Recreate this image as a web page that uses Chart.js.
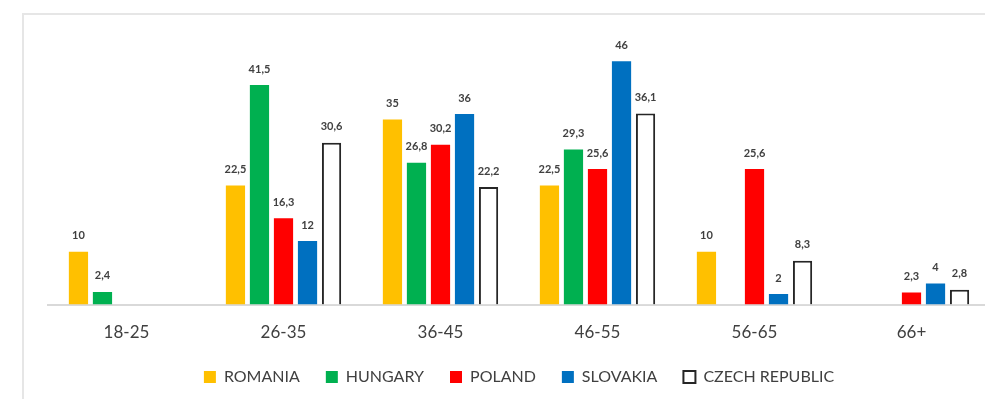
<!DOCTYPE html>
<html>
<head>
<meta charset="utf-8">
<script src="https://cdn.jsdelivr.net/npm/chart.js@4"></script>
<style>
    html, body { margin: 0; padding: 0; background: #fff; overflow: hidden; }
    #wrap { position: relative; width: 985px; height: 399px; overflow: hidden; }
    #frame { position: absolute; left: 22px; top: 13px; width: 1100px; height: 500px; border: 2px solid #e6e6e6; }
    #box { position: absolute; left: 0; top: 0; width: 1000px; height: 420px; }
</style>
</head>
<body>
<div id="wrap">
    <div id="frame"></div>
    <div id="box"><canvas id="ageChart" width="1000" height="420"></canvas></div>
</div>
<script>
    const ageGroups=["18-25","26-35","36-45","46-55","56-65","66+"];

    const romania=[10,22.5,35,22.5,10,null];
    const hungary=[2.4,41.5,26.8,29.3,null,null];
    const poland=[null,16.3,30.2,25.6,25.6,2.3];
    const slovakia=[null,12,36,46,2,4];
    const czech=[null,30.6,22.2,36.1,8.3,2.8];

    const textColor="#404040";

    // value labels above every bar, decimal comma
    const barValues={
        id: "barValues",
        afterDatasetsDraw(chart) {
            const ctx=chart.ctx;
            ctx.save();
            ctx.font="bold 11px Lato";
            ctx.fillStyle=textColor;
            ctx.textAlign="center";
            ctx.textBaseline="middle";
            chart.data.datasets.forEach(function(ds,i) {
                const meta=chart.getDatasetMeta(i);
                meta.data.forEach(function(bar,j) {
                    const v=ds.data[j];
                    if (v===null || v===undefined) return;
                    ctx.fillText(String(v).replace(".",","),bar.x,bar.y-16);
                });
            });
            ctx.restore();
        },
    };

    const ctxAge=document.getElementById("ageChart").getContext("2d");
    const ageChart=new Chart(ctxAge,{
        type: "bar",
        data: {
            labels: ageGroups,
            datasets: [
                {label: "ROMANIA", data: romania, backgroundColor: "#FFC000", borderWidth: 0},
                {label: "HUNGARY", data: hungary, backgroundColor: "#00B050", borderWidth: 0},
                {label: "POLAND", data: poland, backgroundColor: "#FF0000", borderWidth: 0},
                {label: "SLOVAKIA", data: slovakia, backgroundColor: "#0070C0", borderWidth: 0},
                {label: "CZECH REPUBLIC", data: czech, backgroundColor: "#ffffff", borderColor: "#262626", borderWidth: 2},
            ],
        },
        options: {
            responsive: false,
            animation: false,
            categoryPercentage: 0.765,
            barPercentage: 0.8,
            layout: {
                padding: {left: 48, right: 10, top: 40, bottom: 25},
            },
            scales: {
                x: {
                    grid: {display: false, drawTicks: false},
                    border: {display: true, color: "#d9d9d9", width: 2},
                    ticks: {
                        padding: 18,
                        color: textColor,
                        font: {family: "Lato", size: 17},
                    },
                    // pull the legend closer to the tick labels
                    afterFit: function(scale) {
                        scale.height-=18;
                    },
                },
                y: {
                    display: false,
                    min: 0,
                    max: 50,
                },
            },
            plugins: {
                legend: {
                    position: "bottom",
                    labels: {
                        boxWidth: 12,
                        boxHeight: 12,
                        padding: 26,
                        color: textColor,
                        font: {family: "Lato", size: 16},
                    },
                },
                tooltip: {enabled: false},
            },
        },
        plugins: [barValues],
    });
</script>
</body>
</html>
